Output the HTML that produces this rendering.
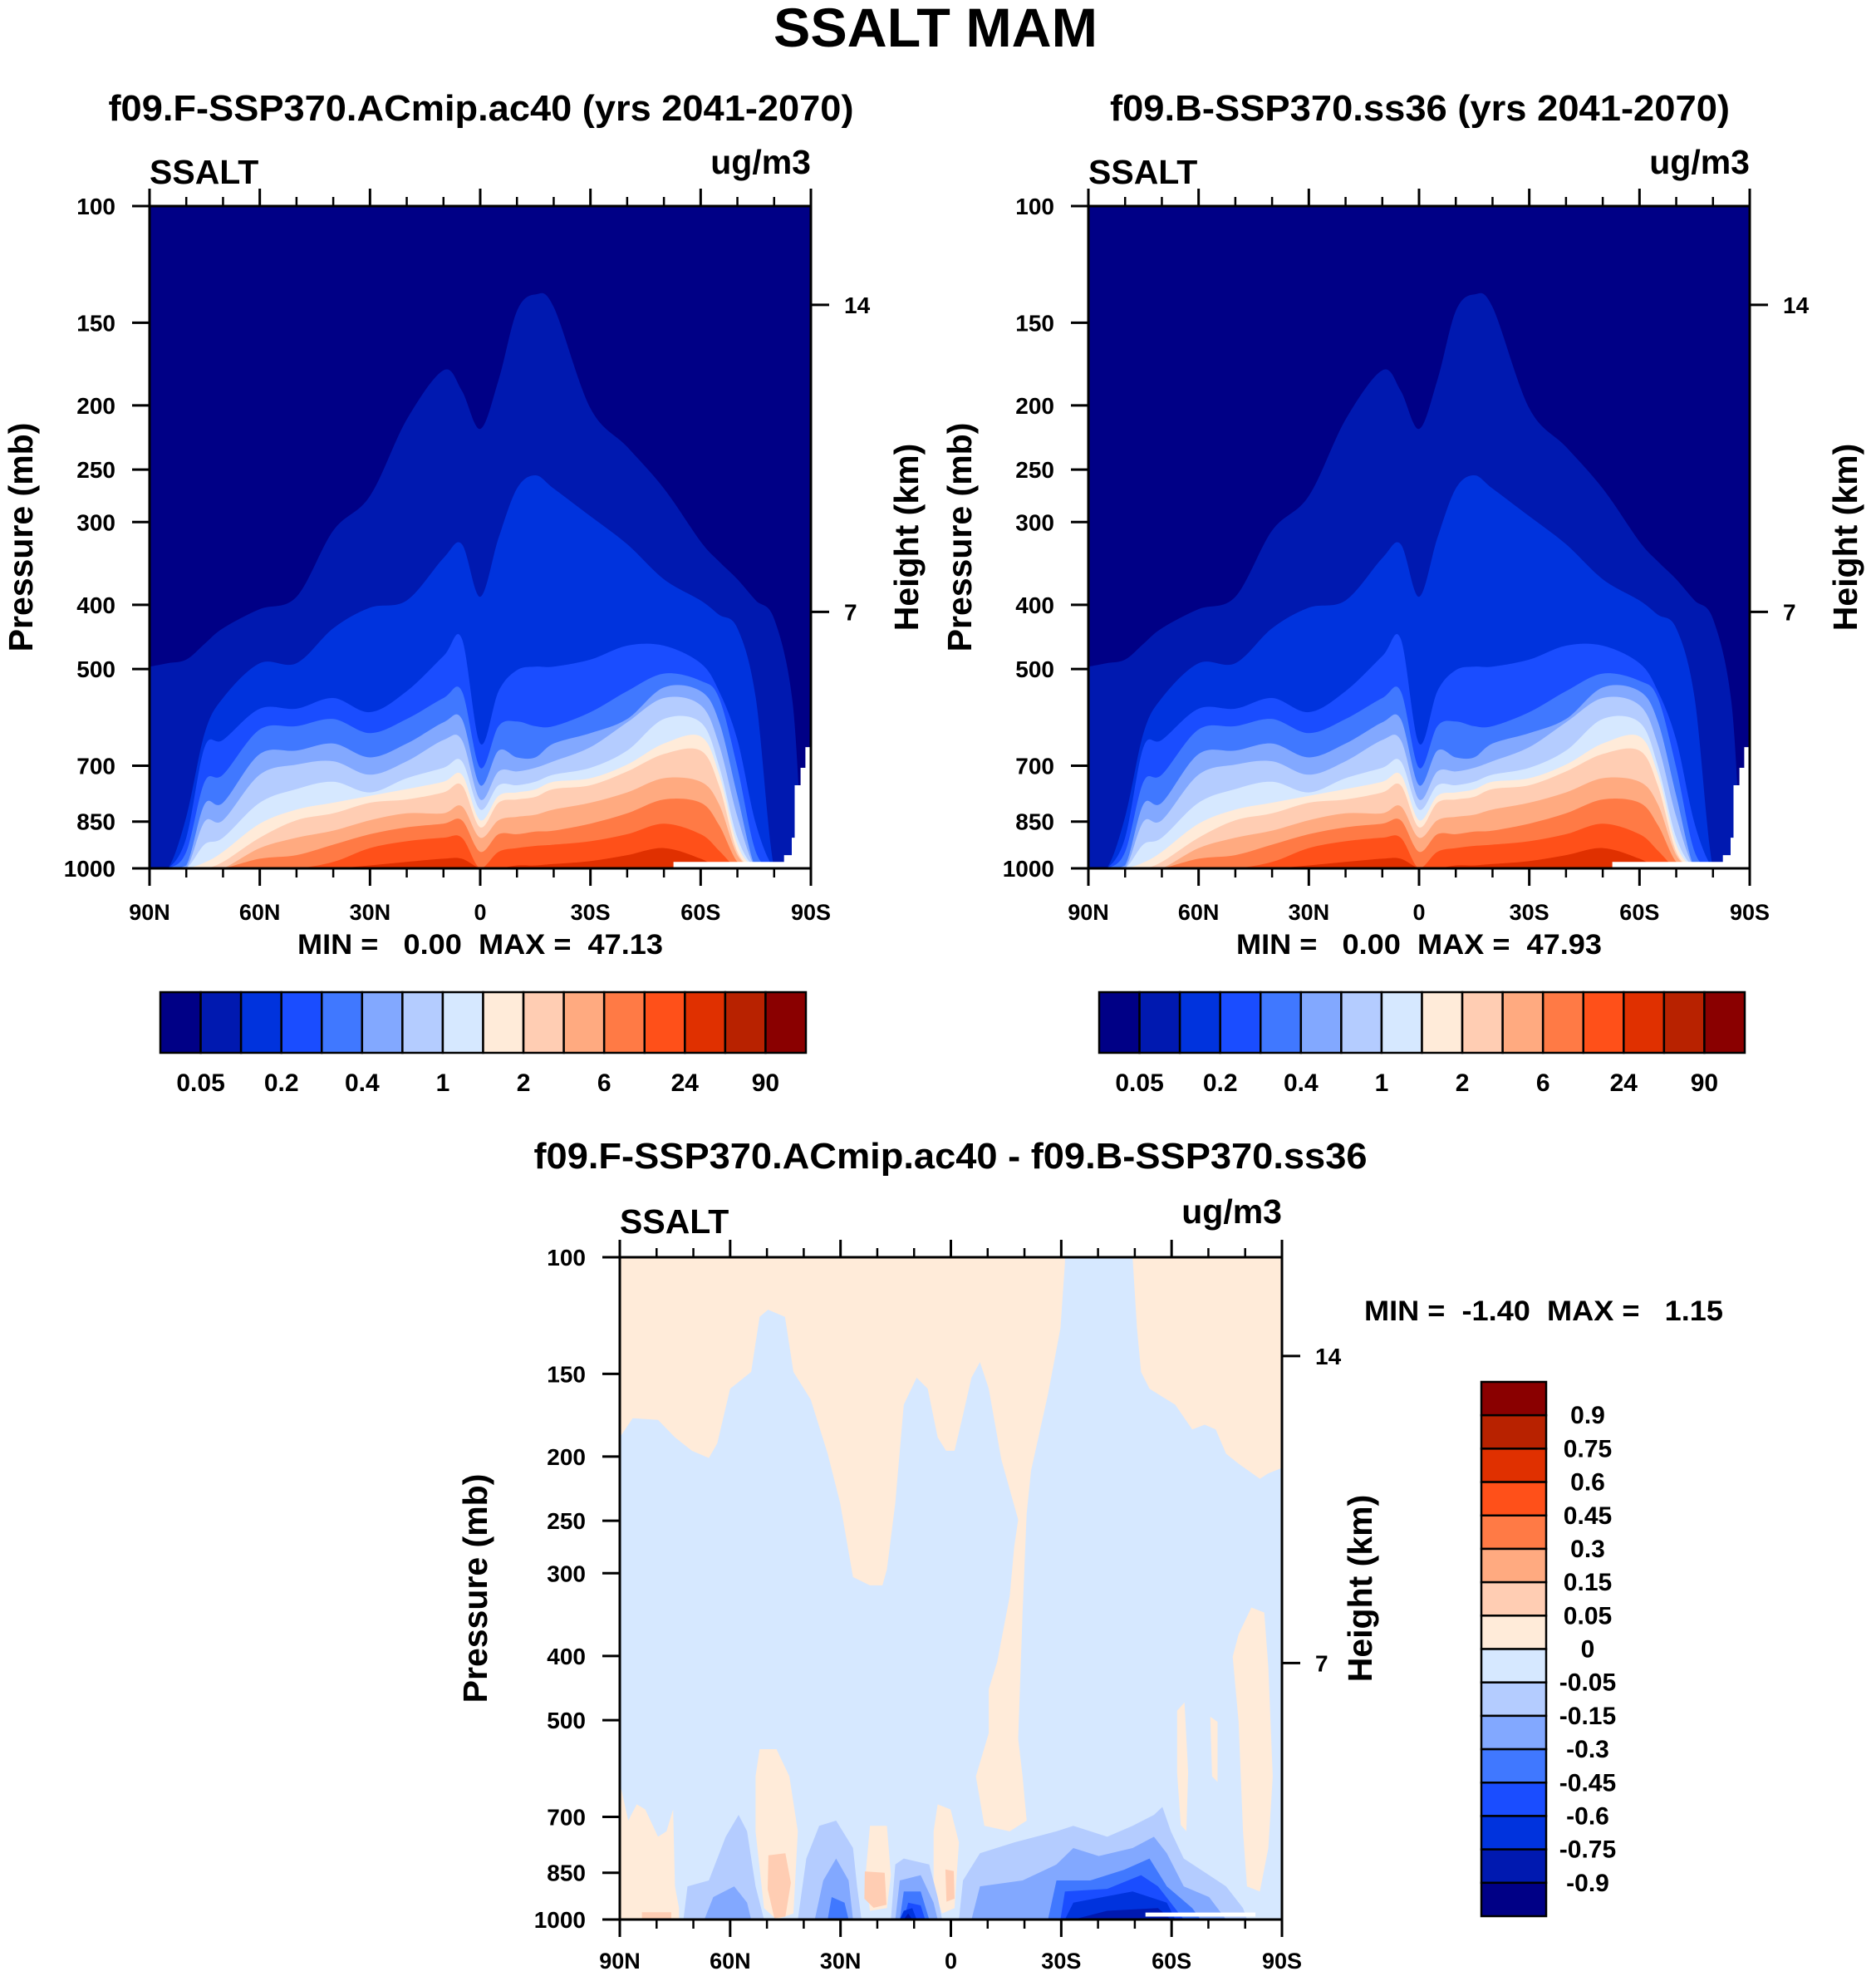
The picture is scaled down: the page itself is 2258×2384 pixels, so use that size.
<!DOCTYPE html>
<html><head><meta charset="utf-8">
<style>
html,body{margin:0;padding:0;background:#fff;}
svg{display:block;font-family:"Liberation Sans",Arial,sans-serif;font-weight:bold;}
.pre{white-space:pre;}
</style></head>
<body>
<svg id="fig" xmlns="http://www.w3.org/2000/svg" width="2258" height="2384" viewBox="0 0 2258 2384">
<rect x="0" y="0" width="2258" height="2384" fill="#fff"/>
<text x="1126" y="56" font-size="66" text-anchor="middle" textLength="390" lengthAdjust="spacingAndGlyphs">SSALT MAM</text>
<text x="579" y="145" font-size="44" text-anchor="middle" textLength="897" lengthAdjust="spacingAndGlyphs">f09.F-SSP370.ACmip.ac40 (yrs 2041-2070)</text>
<text x="1709" y="145" font-size="44" text-anchor="middle" textLength="746" lengthAdjust="spacingAndGlyphs">f09.B-SSP370.ss36 (yrs 2041-2070)</text>
<text x="1144" y="1406" font-size="44" text-anchor="middle" textLength="1003" lengthAdjust="spacingAndGlyphs">f09.F-SSP370.ACmip.ac40 - f09.B-SSP370.ss36</text>
<g id="layer"></g>
</svg>
<script>
// ---------------- data ----------------
const colors = ['#000086','#0019b0','#0033dd','#1a4dff','#4078ff','#82a8ff','#b4ccff','#d6e8ff','#ffebd9','#ffcdb3','#ffaa80','#ff7a45','#ff5019','#e03000','#b82200','#8a0000'];
const topCbarLabels = ['0.05','0.2','0.4','1','2','6','24','90'];
const diffCbarLabels = ['0.9','0.75','0.6','0.45','0.3','0.15','0.05','0','-0.05','-0.15','-0.3','-0.45','-0.6','-0.75','-0.9'];
const pressureTicks = [100,150,200,250,300,400,500,700,850,1000];
const heightTicks = ['14','7'];
const heightTickPressures = [141,410];
const latMajor = [90,60,30,0,-30,-60,-90];
const latMajorLabels = ['90N','60N','30N','0','30S','60S','90S'];
const latMinor = [80,70,50,40,20,10,-10,-20,-40,-50,-70,-80];
const lats = [90,85,80,75,70,60,50,40,30,20,10,5,0,-5,-10,-15,-20,-30,-40,-50,-60,-65,-70,-75,-80,-85,-88,-90];
// pressure (mb) of the top of each contour level
const L1 = [496,490,484,458,434,406,389,309,274,210,177,190,217,183,144,136,142,202,231,267,321,344,366,394,420,560,1000,1000];
const L2 = [1000,1000,836,625,553,490,490,434,404,394,340,324,389,317,267,255,267,294,324,366,394,414,434,553,1000,1000,1000,1000];
const L3 = [1000,1000,899,656,640,574,574,553,581,540,478,450,648,540,502,496,496,484,461,461,490,540,640,856,1000,1000,1000,1000];
const L4 = [1000,1000,944,740,722,617,610,595,625,595,553,540,705,610,600,610,610,581,540,508,521,553,705,944,1000,1000,1000,1000];
const L5 = [1000,1000,990,800,796,672,664,648,680,648,602,595,749,664,680,680,648,625,595,533,540,600,777,1000,1000,1000,1000,1000];
const L6 = [1000,1000,1000,850,846,722,697,689,722,689,640,640,787,714,714,705,689,656,602,553,567,650,836,1000,1000,1000,1000,1000];
const L7 = [1000,1000,1000,920,899,796,759,740,768,731,705,689,815,749,749,740,722,705,664,595,602,700,899,1000,1000,1000,1000,1000];
const L8 = [1000,1000,1000,980,944,856,815,796,777,759,740,722,846,777,768,760,740,731,697,648,632,720,921,1000,1000,1000,1000,1000];
const L9 = [1000,1000,1000,1000,978,899,846,826,796,787,768,749,867,796,787,780,759,749,714,672,664,750,944,1000,1000,1000,1000,1000];
const L10 = [1000,1000,1000,1000,1000,932,899,877,846,826,826,806,899,846,836,830,815,796,768,731,740,800,955,1000,1000,1000,1000,1000];
const L11 = [1000,1000,1000,1000,1000,967,955,921,888,867,856,846,944,888,888,880,877,856,826,787,796,860,978,1000,1000,1000,1000,1000];
const L12 = [1000,1000,1000,1000,1000,1000,1000,978,932,910,899,899,1000,944,932,925,921,910,888,856,888,940,1000,1000,1000,1000,1000,1000];
const L13 = [1000,1000,1000,1000,1000,1000,1000,1000,990,978,967,967,1000,1000,990,990,985,975,955,932,967,1000,1000,1000,1000,1000,1000,1000];
const missingTop = [[-90,656],[-88.5,656],[-88.5,705],[-87.2,705],[-87.2,749],[-85.6,749],[-85.6,899],[-84.8,899],[-84.8,955],[-82.7,955],[-82.7,978],[-52.6,978],[-52.6,1000],[-90,1000]];
// difference field regions [lat, pressure]
const diffCream = [
 [[90,100],[-31,100],[-31,102],[-29.8,128],[-26.4,161],[-21.8,210],[-20.6,244],[-19.5,344],[-18.3,533],[-19.5,608],[-20.6,709],[-16,736],[-9.1,722],[-6.8,608],[-10.3,523],[-10.3,449],[-12.6,408],[-16,325],[-17.2,274],[-18.3,249],[-13.7,202],[-10.3,158],[-7.9,144],[-5.6,152],[-3.3,173],[-1,196],[1.3,196],[3.6,187],[6.3,158],[9.3,152],[12.8,167],[15.1,235],[17.4,296],[18.6,313],[22,313],[26.6,304],[30.1,235],[33.5,198],[38.1,164],[42.8,149],[45.1,123],[49.7,120],[52,123],[54.3,149],[60,158],[63.5,191],[65.8,201],[70.4,196],[75,187],[79.6,176],[86.5,175],[90,187]],
 [[-49.4,100],[-50.6,128],[-51.7,149],[-54,158],[-61,167],[-65.6,182],[-69,179],[-72,182],[-74.8,198],[-78.2,205],[-84,216],[-86.3,212],[-90,208],[-90,100]],
 [[-81.7,338],[-85.2,344],[-86.3,416],[-87.5,608],[-86.3,780],[-84,907],[-80.5,891],[-79.4,736],[-78.2,503],[-76.6,401],[-78.2,371]],
 [[-61.5,484],[-63.5,470],[-64.5,600],[-64,736],[-62.5,720],[-61.5,600]],
 [[-70.5,494],[-72.5,503],[-72.5,620],[-71,608]],
 [[90,621],[87.7,709],[85.4,670],[83.1,682],[79.6,750],[77.3,736],[75.5,682],[75,891],[73.9,961],[73.9,1000],[90,1000]],
 [[52,553],[47.4,553],[43.9,608],[41.6,736],[42.8,979],[47.4,1000],[50.8,961],[53.1,736],[53.1,608]],
 [[22,722],[17.4,722],[16.3,857],[17.4,961],[22,970],[23.2,857]],
 [[3.6,670],[0.1,682],[-2.2,765],[-1,961],[2.4,979],[4.7,891],[4.7,736]]
];
const diffSalmon = [
 [[49.6,800],[45,794],[43.5,880],[45,990],[48,995],[49.8,900]],
 [[23.4,846],[18,850],[17.5,950],[21,960],[23.5,930]],
 [[1.5,840],[-0.8,845],[-1,930],[1.2,940]],
 [[84,975],[76,975],[76,1000],[84,1000]]
];
const diffC6 = [
 [[72.7,1000],[71.6,891],[65.8,873],[61.2,750],[57.7,695],[55.4,736],[53.1,891],[50.8,1000]],
 [[41.6,1000],[39.3,809],[35.8,722],[31.2,709],[26.6,780],[25.5,891],[24.3,1000]],
 [[16.3,1000],[15.1,826],[12.8,809],[5.9,826],[3.6,925],[2.4,1000]],
 [[-2.2,1000],[-3.3,873],[-7.9,794],[-17.2,765],[-28.7,736],[-33.3,722],[-42.5,750],[-49.4,722],[-55.2,695],[-57.5,676],[-59.8,736],[-63.3,809],[-70.2,857],[-74.8,891],[-79.4,961],[-80.5,1000]]
];
const diffC5 = [
 [[67,1000],[64.6,925],[58.9,891],[55.4,943],[54.3,1000]],
 [[37,1000],[34.7,873],[31.2,809],[27.8,873],[26.6,1000]],
 [[15.1,1000],[13.9,873],[8.2,857],[4.7,943],[3.6,1000]],
 [[-5.6,1000],[-7.9,891],[-19.5,873],[-28.7,826],[-33.3,780],[-40.2,802],[-49.4,780],[-55.2,750],[-58.7,794],[-63.3,891],[-70.2,925],[-74.8,1000]]
];
const diffC4 = [
 [[33.5,1000],[32.4,925],[28.9,943],[27.8,1000]],
 [[13.9,1000],[12.8,907],[8.2,907],[5.9,1000]],
 [[-26.4,1000],[-28.7,873],[-37.9,873],[-47.1,841],[-54,809],[-58.7,891],[-65.6,961],[-67.9,1000]]
];
const diffC3 = [
 [[12.8,1000],[11.6,943],[8.2,952],[7,1000]],
 [[-29.8,1000],[-31,907],[-42.5,899],[-51.7,857],[-56.3,891],[-63.3,1000]]
];
const diffC2 = [
 [[13.9,1000],[12.8,970],[10.5,961],[9.3,1000]],
 [[-31,1000],[-33.3,943],[-49.4,907],[-58.7,943],[-61,1000]]
];
const diffC1 = [
 [[12.8,1000],[11.6,979],[10.5,1000]],
 [[-33.3,1000],[-42.5,970],[-56.3,961],[-59.8,1000]]
];
const diffMissing = [[-52.9,976],[-82.8,976],[-82.8,990],[-52.9,990]];

// ---------------- drawing ----------------
const NS = 'http://www.w3.org/2000/svg';
const layer = document.getElementById('layer');
function mk(tag, attrs, parent, txt) {
  const e = document.createElementNS(NS, tag);
  for (const k in attrs) e.setAttribute(k, attrs[k]);
  if (txt !== undefined) e.textContent = txt;
  (parent || layer).appendChild(e);
  return e;
}
function xOf(lat, g) { return g.l + (90 - lat) / 180 * (g.r - g.l); }
function yOf(p, g) { return g.t + (Math.log10(p) - 2) * (g.b - g.t); }
function polyPts(pts, g) { return pts.map(q => xOf(q[0], g).toFixed(1) + ',' + yOf(q[1], g).toFixed(1)).join(' '); }
function smoothPath(pts, g) {
  const P = pts.map(q => [xOf(q[0], g), yOf(q[1], g)]);
  let d = 'M' + P[0][0].toFixed(1) + ',' + P[0][1].toFixed(1);
  for (let i = 0; i < P.length - 1; i++) {
    const p0 = P[Math.max(0, i - 1)], p1 = P[i], p2 = P[i + 1], p3 = P[Math.min(P.length - 1, i + 2)];
    const c1x = p1[0] + (p2[0] - p0[0]) / 6, c1y = Math.min(g.b, p1[1] + (p2[1] - p0[1]) / 6);
    const c2x = p2[0] - (p3[0] - p1[0]) / 6, c2y = Math.min(g.b, p2[1] - (p3[1] - p1[1]) / 6);
    d += ' C' + c1x.toFixed(1) + ',' + c1y.toFixed(1) + ' ' + c2x.toFixed(1) + ',' + c2y.toFixed(1) + ' ' + p2[0].toFixed(1) + ',' + p2[1].toFixed(1);
  }
  d += ' L' + g.r + ',' + g.b + ' L' + g.l + ',' + g.b + ' Z';
  return d;
}

function axes(g, grp, o) {
  const fr = mk('rect', {x: g.l, y: g.t, width: g.r - g.l, height: g.b - g.t, fill: 'none', stroke: '#000', 'stroke-width': 3}, grp);
  
  
  latMajor.forEach((lat, i) => {
    const x = xOf(lat, g);
    const t1 = mk('line', {x1: x, x2: x, y1: g.t, y2: g.t - 21, stroke: '#000', 'stroke-width': 3}, grp);
    
    
    const t2 = mk('line', {x1: x, x2: x, y1: g.b, y2: g.b + 21, stroke: '#000', 'stroke-width': 3}, grp);
    
    
    const lb = mk('text', {x: x, y: o.latY, 'font-size': 27, 'text-anchor': 'middle'}, grp, latMajorLabels[i]);
    
    
  });
  latMinor.forEach(lat => {
    const x = xOf(lat, g);
    const t1 = mk('line', {x1: x, x2: x, y1: g.t, y2: g.t - 11, stroke: '#000', 'stroke-width': 2.5}, grp);
    
    
    const t2 = mk('line', {x1: x, x2: x, y1: g.b, y2: g.b + 11, stroke: '#000', 'stroke-width': 2.5}, grp);
    
    
  });
  pressureTicks.forEach(p => {
    const y = yOf(p, g);
    const t = mk('line', {x1: g.l - 21, x2: g.l, y1: y, y2: y, stroke: '#000', 'stroke-width': 3}, grp);
    
    
    const lb = mk('text', {x: g.l - 41, y: y + 10, 'font-size': 28, 'text-anchor': 'end'}, grp, String(p));
    
    
  });
  heightTicks.forEach((h, i) => {
    const y = yOf(heightTickPressures[i], g);
    const t = mk('line', {x1: g.r, x2: g.r + 22, y1: y, y2: y, stroke: '#000', 'stroke-width': 3}, grp);
    
    
    const lb = mk('text', {x: g.r + 40, y: y + 10, 'font-size': 28}, grp, h);
    
    
  });
  const pt = mk('text', {x: 0, y: 0, 'font-size': 41, 'text-anchor': 'middle', transform: 'translate(' + (o.pX + 14) + ',' + ((g.t + g.b) / 2) + ') rotate(-90)'}, grp, 'Pressure (mb)');
  
  
  const ht = mk('text', {x: 0, y: 0, 'font-size': 41, 'text-anchor': 'middle', transform: 'translate(' + (o.hX + 14) + ',' + ((g.t + g.b) / 2) + ') rotate(-90)'}, grp, 'Height (km)');
  
  
  const s = mk('text', {x: g.l, y: o.ssaltY, 'font-size': 41}, grp, 'SSALT');
  
  
  const u = mk('text', {x: g.r, y: o.unitY, 'font-size': 41, 'text-anchor': 'end'}, grp, 'ug/m3');
  
  
}

function climPanel(g, name, maxText) {
  const grp = mk('g', {});
  
  
  const bg = mk('rect', {x: g.l, y: g.t, width: g.r - g.l, height: g.b - g.t, fill: colors[0]}, grp);
  
  
  const levels = [L1, L2, L3, L4, L5, L6, L7, L8, L9, L10, L11, L12, L13];
  levels.forEach((lev, k) => {
    const pts = lats.map((la, i) => [la, lev[i]]);
    const pg = mk('path', {d: smoothPath(pts, g), fill: colors[k + 1]}, grp);
    
    
  });
  const ms = mk('polygon', {points: polyPts(missingTop, g), fill: '#fff'}, grp);
  
  
  axes(g, grp, {latY: 1107, pX: g.l - 155, hX: g.r + 115, ssaltY: 221, unitY: 209});
  const mm = mk('text', {x: (g.l + g.r) / 2, y: 1148, 'font-size': 34, 'text-anchor': 'middle', 'class': 'pre', textLength: 440, lengthAdjust: 'spacingAndGlyphs'}, grp, 'MIN =   0.00  MAX =  ' + maxText);
  
  
  const cb = mk('g', {}, grp);
  
  
  const cx0 = g.l + 13, cx1 = g.l + 790, cy0 = 1194, cy1 = 1267, w = (cx1 - cx0) / colors.length;
  colors.forEach((c, i) => {
    const r = mk('rect', {x: cx0 + i * w, y: cy0, width: w, height: cy1 - cy0, fill: c, stroke: '#000', 'stroke-width': 2.5}, cb);
    
    
  });
  topCbarLabels.forEach((t, i) => {
    const lb = mk('text', {x: cx0 + (2 * i + 1) * w, y: 1313, 'font-size': 30, 'text-anchor': 'middle'}, cb, t);
    
    
  });
}

climPanel({l: 180, r: 976, t: 248, b: 1045}, 'left-panel', '47.13');
climPanel({l: 1310, r: 2106, t: 248, b: 1045}, 'right-panel', '47.93');

// difference panel
(function () {
  const g = {l: 746, r: 1543, t: 1513, b: 2310};
  const grp = mk('g', {});
  
  
  const bg = mk('rect', {x: g.l, y: g.t, width: g.r - g.l, height: g.b - g.t, fill: colors[7]}, grp);
  
  
  const sets = [[diffCream, colors[8], 'diff-positive-small'], [diffSalmon, colors[9], 'diff-positive'], [diffC6, colors[6], 'diff-neg-0.05'], [diffC5, colors[5], 'diff-neg-0.15'], [diffC4, colors[4], 'diff-neg-0.3'], [diffC3, colors[3], 'diff-neg-0.45'], [diffC2, colors[2], 'diff-neg-0.6'], [diffC1, colors[1], 'diff-neg-0.75']];
  sets.forEach(s => {
    s[0].forEach(poly => {
      const pg = mk('polygon', {points: polyPts(poly, g), fill: s[1], 'stroke-linejoin': 'round'}, grp);
      
      
    });
  });
  const ms = mk('polygon', {points: polyPts(diffMissing, g), fill: '#fff'}, grp);
  
  
  axes(g, grp, {latY: 2369, pX: 592 - 20, hX: 1657 - 20, ssaltY: 1484, unitY: 1472});
  const mm = mk('text', {x: 1858, y: 1589, 'font-size': 34, 'text-anchor': 'middle', 'class': 'pre', textLength: 432, lengthAdjust: 'spacingAndGlyphs'}, grp, 'MIN =  -1.40  MAX =   1.15');
  
  
  const cb = mk('g', {}, grp);
  
  
  const x0 = 1783, x1 = 1861, y0 = 1663, y1 = 2306, h = (y1 - y0) / colors.length;
  colors.slice().reverse().forEach((c, i) => {
    const r = mk('rect', {x: x0, y: y0 + i * h, width: x1 - x0, height: h, fill: c, stroke: '#000', 'stroke-width': 2.5}, cb);
    
    
  });
  diffCbarLabels.forEach((t, i) => {
    const lb = mk('text', {x: 1911, y: y0 + (i + 1) * h + 10, 'font-size': 30, 'text-anchor': 'middle'}, cb, t);
    
    
  });
})();
</script>
</body></html>
